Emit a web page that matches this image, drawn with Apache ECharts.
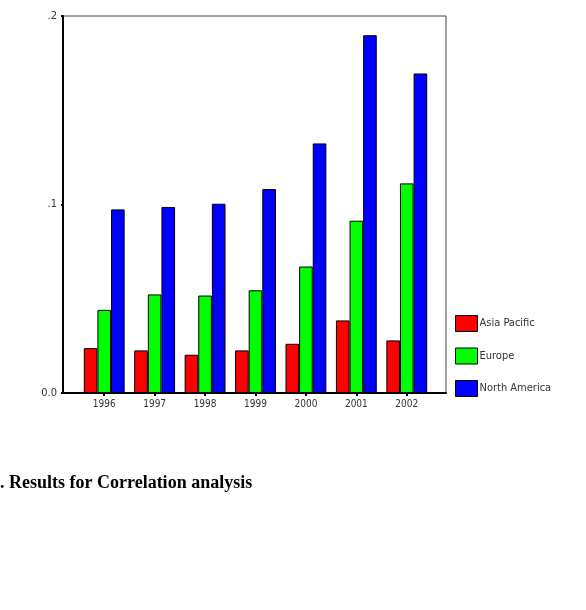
<!DOCTYPE html>
<html>
<head>
<meta charset="utf-8">
<script src="https://cdn.jsdelivr.net/npm/echarts@6/dist/echarts.min.js"></script>
<style>
    html, body { margin: 0; padding: 0; background: #fff; }
    #main { width: 586px; height: 610px; }
</style>
</head>
<body>
<div id="main"></div>
<script>
// 年份
var years = ['1996', '1997', '1998', '1999', '2000', '2001', '2002'];
// 各地区数值
var asiaPacific = [0.0238, 0.0226, 0.0203, 0.0226, 0.0261, 0.0385, 0.0279];
var europe = [0.0441, 0.0523, 0.0517, 0.0545, 0.0671, 0.0914, 0.1112];
var northAmerica = [0.0974, 0.0987, 0.1004, 0.1082, 0.1324, 0.1898, 0.1695];
var seriesNames = ['Asia Pacific', 'Europe', 'North America'];
var colors = ['#ff0000', '#00ff00', '#0000ff'];

var chart = echarts.init(document.getElementById('main'));
var font = '"DejaVu Sans Condensed", "DejaVu Sans", sans-serif';

var makeBar = function (i, data) {
    return {
        name: seriesNames[i],
        type: 'bar',
        xAxisIndex: 1,
        yAxisIndex: 1,
        barGap: '0%',
        barCategoryGap: '19%',
        itemStyle: {color: colors[i], borderColor: '#000', borderWidth: 1},
        data: data
    };
};

var option = {
    animation: false,
    backgroundColor: '#fff',
    color: colors,
    grid: [
        // 外框
        {left: 63, top: 16, width: 383, height: 377, show: true, borderColor: '#444', borderWidth: 1},
        // 柱子区域
        {left: 79, top: 16, width: 353, height: 377}
    ],
    xAxis: [
        {
            gridIndex: 0, type: 'value', min: 0, max: 1,
            axisLine: {show: true, lineStyle: {color: '#000', width: 2}},
            axisTick: {show: false}, axisLabel: {show: false}, splitLine: {show: false}
        },
        {
            gridIndex: 1, type: 'category', data: years,
            axisLine: {show: false},
            axisTick: {show: true, alignWithLabel: true, length: 3, lineStyle: {color: '#000', width: 2}},
            axisLabel: {fontFamily: font, fontSize: 10, color: '#333', margin: 6}
        }
    ],
    yAxis: [
        {
            gridIndex: 0, type: 'value', min: 0, max: 0.2, interval: 0.1,
            axisLine: {show: true, lineStyle: {color: '#000', width: 2}},
            axisTick: {show: true, length: 2, lineStyle: {color: '#000', width: 2}},
            splitLine: {show: false},
            axisLabel: {
                fontFamily: font, fontSize: 11, color: '#333', margin: 6,
                formatter: function (v) {
                    return v === 0 ? '0.0' : '.' + Math.round(v * 10);
                }
            }
        },
        {gridIndex: 1, type: 'value', min: 0, max: 0.2, show: false}
    ],
    legend: {
        orient: 'vertical',
        left: 455,
        top: 315,
        padding: 0,
        itemWidth: 22,
        itemHeight: 16,
        itemGap: 15.5,
        icon: 'rect',
        itemStyle: {borderColor: '#000', borderWidth: 1},
        textStyle: {fontFamily: font, fontSize: 11, color: '#333', padding: [0, 0, 0, -3]},
        data: seriesNames
    },
    graphic: [
        {
            type: 'text', left: -9, top: 474,
            style: {
                text: '2. Results for Correlation analysis',
                font: 'bold 18px "Liberation Serif", serif',
                fill: '#000'
            }
        }
    ],
    series: [
        makeBar(0, asiaPacific),
        makeBar(1, europe),
        makeBar(2, northAmerica)
    ]
};
chart.setOption(option);
</script>
</body>
</html>
